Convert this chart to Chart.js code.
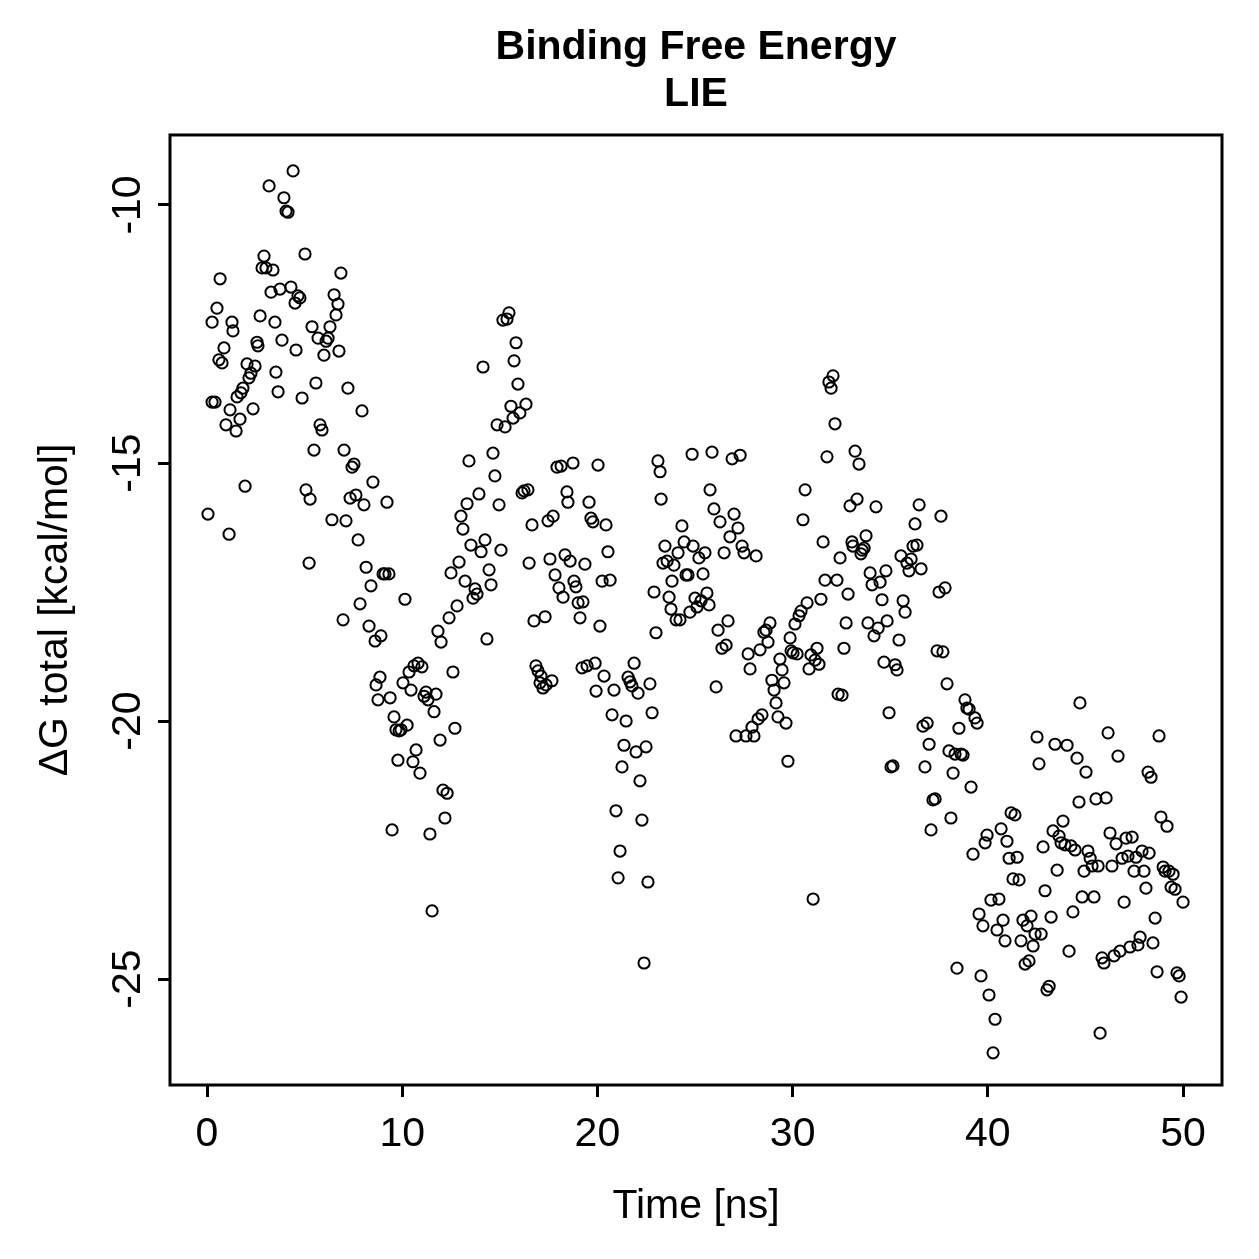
<!DOCTYPE html>
<html>
<head>
<meta charset="utf-8">
<script src="https://cdn.jsdelivr.net/npm/chart.js@4.4.1/dist/chart.umd.min.js"></script>
<style>
html,body{margin:0;padding:0;background:#fff;}
canvas{display:block;}
</style>
</head>
<body>
<canvas id="c" width="1259" height="1259"></canvas>
<script>
const titleLines = ['Binding Free Energy', 'LIE'];
const xAxisTitle = 'Time [ns]';
const yAxisTitle = '\u0394G total [kcal/mol]';
const xTickValues = [0, 10, 20, 30, 40, 50];
const yTickValues = [-25, -20, -15, -10];

const times = [
0.05,0.26,0.41,0.26,0.51,0.61,0.67,0.77,0.87,0.97,1.13,1.18,1.28,1.33,1.49,1.54,1.74,1.69,1.84,1.95,
2.05,2.15,2.25,2.36,2.46,2.56,2.61,2.72,2.82,2.92,3.02,3.18,3.28,3.38,3.48,3.53,3.64,3.74,3.84,3.94,
4.05,4.15,4.30,4.41,4.51,4.56,4.66,4.76,4.87,5.02,5.07,5.23,5.28,5.38,5.48,5.58,5.69,5.79,5.89,5.99,
6.10,6.20,6.30,6.40,6.51,6.61,6.71,6.76,6.86,6.97,7.02,7.12,7.22,7.33,7.43,7.53,7.63,7.74,7.84,7.94,
8.04,8.15,8.30,8.40,8.50,8.61,8.66,8.76,8.86,8.91,9.02,9.12,9.22,9.32,9.38,9.48,9.58,9.68,9.78,9.84,
9.94,10.04,10.14,10.25,10.35,10.45,10.55,10.60,10.71,10.81,10.91,11.01,11.12,11.22,11.32,11.42,11.53,11.63,11.73,11.83,
11.94,11.99,12.09,12.19,12.30,12.40,12.50,12.60,12.70,12.81,12.91,13.01,13.11,13.22,13.32,13.42,13.52,13.63,13.73,13.83,
13.93,14.04,14.14,14.24,14.34,14.45,14.55,14.65,14.75,14.86,14.96,15.06,15.16,15.27,15.37,15.47,15.57,15.68,15.73,15.83,
15.93,16.03,16.14,16.24,16.34,16.44,16.50,16.65,16.75,16.85,16.96,17.06,17.11,17.21,17.32,17.37,17.47,17.57,17.67,17.73,
17.83,17.93,18.03,18.14,18.24,18.34,18.44,18.49,18.60,18.75,18.80,18.90,19.01,19.11,19.21,19.26,19.36,19.47,19.57,19.67,
19.77,19.88,19.93,20.03,20.13,20.24,20.34,20.44,20.54,20.65,20.75,20.85,20.95,21.06,21.16,21.26,21.36,21.47,21.57,21.67,
21.77,21.88,21.98,22.08,22.18,22.28,22.39,22.49,22.59,22.69,22.80,22.90,23.00,23.10,23.21,23.26,23.36,23.46,23.57,23.67,
23.77,23.82,23.92,24.03,24.13,24.23,24.33,24.44,24.54,24.64,24.74,24.85,24.90,25.00,25.10,25.20,25.31,25.41,25.51,25.61,
25.72,25.77,25.87,25.97,26.08,26.18,26.28,26.38,26.49,26.59,26.69,26.79,26.90,27.00,27.10,27.20,27.31,27.41,27.51,27.61,
27.72,27.82,27.92,28.02,28.13,28.23,28.33,28.43,28.53,28.64,28.74,28.84,28.94,29.05,29.15,29.25,29.35,29.46,29.56,29.66,
29.76,29.87,29.92,30.02,30.12,30.23,30.33,30.43,30.53,30.64,30.74,30.84,30.94,31.05,31.15,31.25,31.35,31.45,31.56,31.66,
31.76,31.86,31.97,32.07,32.17,32.27,32.33,32.43,32.53,32.63,32.74,32.84,32.94,33.04,33.09,33.20,33.30,33.40,33.50,33.56,
33.66,33.76,33.86,33.97,34.07,34.17,34.27,34.38,34.48,34.58,34.68,34.78,34.84,34.94,35.04,35.14,35.25,35.35,35.45,35.55,
35.66,35.76,35.86,35.96,36.07,36.17,36.27,36.37,36.48,36.58,36.68,36.78,36.89,36.99,37.09,37.19,37.30,37.40,37.50,37.60,
37.70,37.81,37.91,38.01,38.11,38.22,38.32,38.42,38.52,38.63,38.73,38.83,38.93,39.04,39.14,39.24,39.34,39.45,39.55,39.65,
39.75,39.86,39.96,40.06,40.16,40.27,40.37,40.47,40.57,40.68,40.78,40.88,40.98,41.09,41.19,41.29,41.39,41.50,41.60,41.70,
41.80,41.91,42.01,42.11,42.21,42.32,42.42,42.52,42.62,42.73,42.83,42.93,43.03,43.14,43.24,43.34,43.44,43.55,43.65,43.75,
43.85,43.95,44.06,44.16,44.26,44.36,44.47,44.57,44.67,44.72,44.83,44.93,45.03,45.13,45.24,45.34,45.44,45.54,45.65,45.75,
45.85,45.95,46.06,46.16,46.26,46.36,46.47,46.57,46.67,46.77,46.88,46.98,47.08,47.18,47.28,47.39,47.49,47.59,47.69,47.80,
47.90,48.00,48.10,48.21,48.26,48.36,48.46,48.57,48.67,48.77,48.87,48.98,49.08,49.18,49.28,49.39,49.49,49.59,49.69,49.80,
49.90,50.00
];

const deltaG = [
-15.99,-13.82,-13.82,-12.27,-12.00,-13.00,-11.43,-13.06,-12.77,-14.26,-16.38,-13.97,-12.27,-12.44,-14.38,-13.72,-13.64,-14.15,-13.55,-15.45,
-13.08,-13.35,-13.26,-13.95,-13.12,-12.66,-12.73,-12.15,-11.22,-10.99,-11.22,-9.63,-11.69,-11.26,-12.27,-13.24,-13.62,-11.63,-12.62,-9.86,
-10.12,-10.14,-11.59,-9.34,-11.90,-12.81,-11.76,-11.80,-13.74,-10.95,-15.52,-16.94,-15.70,-12.36,-14.75,-13.45,-12.58,-14.26,-14.36,-12.91,
-12.64,-12.58,-12.36,-16.10,-11.74,-12.13,-11.92,-12.83,-11.32,-18.04,-14.75,-16.12,-13.55,-15.68,-15.08,-15.02,-15.62,-16.49,-17.73,-13.99,
-15.81,-17.02,-18.16,-17.38,-15.37,-18.45,-19.30,-19.59,-19.15,-18.35,-17.15,-17.15,-15.76,-17.15,-19.55,-22.11,-19.92,-20.17,-20.76,-20.19,
-20.17,-19.26,-17.64,-20.08,-19.05,-19.40,-20.79,-18.93,-20.56,-18.88,-21.01,-18.95,-19.52,-19.44,-19.59,-22.19,-23.68,-19.82,-19.48,-18.26,
-20.37,-18.47,-21.34,-21.88,-21.40,-18.00,-17.13,-19.05,-20.14,-17.77,-16.92,-16.03,-16.28,-17.29,-15.79,-14.96,-16.59,-17.62,-17.44,-17.54,
-15.60,-16.72,-13.14,-16.49,-18.41,-17.07,-17.36,-14.81,-15.25,-14.26,-15.81,-16.69,-12.23,-14.30,-12.21,-12.09,-13.90,-14.13,-13.02,-12.67,
-13.47,-14.03,-15.58,-15.54,-13.86,-15.52,-16.94,-16.20,-18.06,-18.93,-19.03,-19.26,-19.13,-19.36,-17.98,-19.30,-16.12,-16.86,-19.22,-16.03,
-17.17,-15.08,-17.42,-15.06,-17.60,-16.78,-15.56,-15.76,-16.90,-15.00,-17.29,-17.40,-17.71,-18.00,-18.97,-17.69,-16.96,-18.93,-15.76,-16.07,
-16.14,-18.88,-19.42,-15.04,-18.16,-17.29,-19.13,-16.20,-16.72,-17.27,-19.88,-19.40,-21.74,-23.04,-22.52,-20.89,-20.47,-20.00,-19.15,-19.24,
-19.32,-18.88,-20.60,-19.46,-21.16,-21.92,-24.69,-20.50,-23.12,-19.28,-19.84,-17.50,-18.29,-14.96,-15.17,-15.70,-16.94,-16.61,-16.90,-17.60,
-17.83,-17.29,-16.98,-18.04,-16.74,-18.04,-16.22,-16.53,-17.17,-17.17,-17.89,-14.83,-16.61,-17.62,-17.79,-16.84,-17.67,-17.15,-16.74,-17.52,
-17.75,-15.52,-14.79,-15.89,-19.34,-18.24,-16.14,-18.59,-16.74,-18.53,-18.06,-16.43,-14.92,-15.99,-20.29,-16.26,-14.85,-16.61,-16.74,-20.29,
-18.70,-18.99,-20.12,-20.29,-16.80,-19.96,-18.62,-19.88,-18.28,-18.24,-18.47,-18.10,-19.21,-19.40,-19.65,-19.92,-18.80,-19.01,-19.26,-20.04,
-20.78,-18.39,-18.64,-18.68,-18.12,-18.70,-17.96,-17.87,-16.10,-15.52,-17.71,-18.99,-18.72,-23.45,-18.82,-18.59,-18.90,-17.64,-16.53,-17.27,
-14.88,-13.43,-13.55,-13.31,-14.24,-17.27,-19.48,-16.84,-19.50,-18.59,-18.10,-17.54,-15.83,-16.53,-16.61,-14.77,-15.70,-15.02,-16.76,-16.69,
-16.65,-16.41,-18.10,-17.13,-17.36,-18.35,-15.85,-18.20,-17.31,-17.65,-18.86,-17.09,-18.06,-19.84,-20.89,-20.87,-18.91,-19.01,-18.43,-16.80,
-17.67,-17.89,-16.94,-17.09,-16.86,-16.61,-16.18,-16.59,-15.81,-17.05,-20.10,-20.89,-20.04,-20.45,-22.11,-21.53,-21.51,-18.64,-17.50,-16.03,
-18.66,-17.42,-19.28,-20.58,-21.88,-21.01,-20.64,-24.79,-20.14,-20.64,-20.66,-19.59,-19.75,-19.77,-21.28,-22.58,-19.94,-20.04,-23.74,-24.94,
-23.97,-22.36,-22.21,-25.31,-23.47,-26.43,-25.78,-24.05,-23.45,-22.09,-23.86,-24.26,-22.33,-22.66,-21.78,-23.06,-21.82,-22.64,-23.08,-24.26,
-23.86,-24.71,-23.97,-24.65,-23.78,-24.36,-24.13,-20.31,-20.83,-24.13,-22.44,-23.29,-25.21,-25.14,-23.80,-22.13,-20.45,-22.89,-22.23,-22.36,
-21.94,-22.40,-20.47,-24.46,-22.42,-23.70,-22.50,-20.72,-21.57,-19.65,-23.41,-22.91,-20.99,-22.52,-22.66,-22.81,-23.41,-21.51,-22.81,-26.05,
-24.59,-24.69,-21.49,-20.23,-22.17,-22.81,-24.55,-22.38,-20.68,-24.46,-22.66,-23.51,-22.27,-22.62,-24.38,-22.25,-22.91,-22.64,-24.34,-24.19,
-22.52,-22.91,-23.24,-20.99,-22.56,-21.09,-24.30,-23.82,-24.86,-20.29,-21.86,-22.83,-22.91,-22.04,-22.91,-23.22,-22.97,-23.26,-24.88,-24.94,
-25.35,-23.51
];

const FONT = '"Liberation Sans", Arial, Helvetica, sans-serif';

const boxPlugin = {
  id: 'plotBox',
  afterDraw(chart) {
    const a = chart.chartArea;
    const c = chart.ctx;
    c.save();
    c.strokeStyle = '#000';
    c.lineWidth = 3;
    c.strokeRect(a.left, a.top, a.right - a.left, a.bottom - a.top);
    c.restore();
  }
};

new Chart(document.getElementById('c').getContext('2d'), {
  type: 'scatter',
  data: {
    datasets: [{
      data: times.map((t, i) => ({ x: t, y: deltaG[i] })),
      pointStyle: 'circle',
      pointRadius: 5.6,
      pointHoverRadius: 5.6,
      pointBorderWidth: 2,
      borderColor: '#000',
      backgroundColor: 'rgba(0,0,0,0)',
      showLine: false
    }]
  },
  options: {
    responsive: false,
    animation: false,
    devicePixelRatio: 1,
    events: [],
    layout: { padding: { left: 0, right: 37, top: 0, bottom: 0 } },
    plugins: {
      legend: { display: false },
      tooltip: { enabled: false },
      title: {
        display: true,
        text: titleLines,
        fullSize: false,
        color: '#000',
        font: { family: FONT, size: 41, weight: 'bold', lineHeight: 1.146 },
        padding: { top: 24, bottom: 17 }
      }
    },
    scales: {
      x: {
        type: 'linear',
        position: 'bottom',
        min: -1.896,
        max: 51.996,
        afterBuildTicks: s => { s.ticks = xTickValues.map(v => ({ value: v })); },
        afterFit: s => { s.height = 174; },
        ticks: {
          color: '#000', font: { family: FONT, size: 41 }, padding: 13,
          maxRotation: 0, minRotation: 0, autoSkip: false,
          callback: v => String(v)
        },
        grid: { display: true, drawOnChartArea: false, drawTicks: true, tickLength: 12, tickWidth: 3, tickColor: '#000' },
        border: { display: false },
        title: { display: true, text: xAxisTitle, color: '#000', font: { family: FONT, size: 41 }, padding: { top: 0, bottom: 28 } }
      },
      y: {
        type: 'linear',
        position: 'left',
        min: -27.054,
        max: -8.643,
        afterBuildTicks: s => { s.ticks = yTickValues.map(v => ({ value: v })); },
        afterFit: s => { s.width = 170; },
        ticks: {
          color: '#000', font: { family: FONT, size: 41 }, padding: 0,
          minRotation: 90, maxRotation: 90, autoSkip: false, crossAlign: 'center',
          callback: v => String(v)
        },
        grid: { display: true, drawOnChartArea: false, drawTicks: true, tickLength: 12, tickWidth: 3, tickColor: '#000' },
        border: { display: false },
        title: { display: true, text: yAxisTitle, color: '#000', font: { family: FONT, size: 41 }, padding: { top: 31, bottom: 0 } }
      }
    }
  },
  plugins: [boxPlugin]
});
</script>
</body>
</html>
